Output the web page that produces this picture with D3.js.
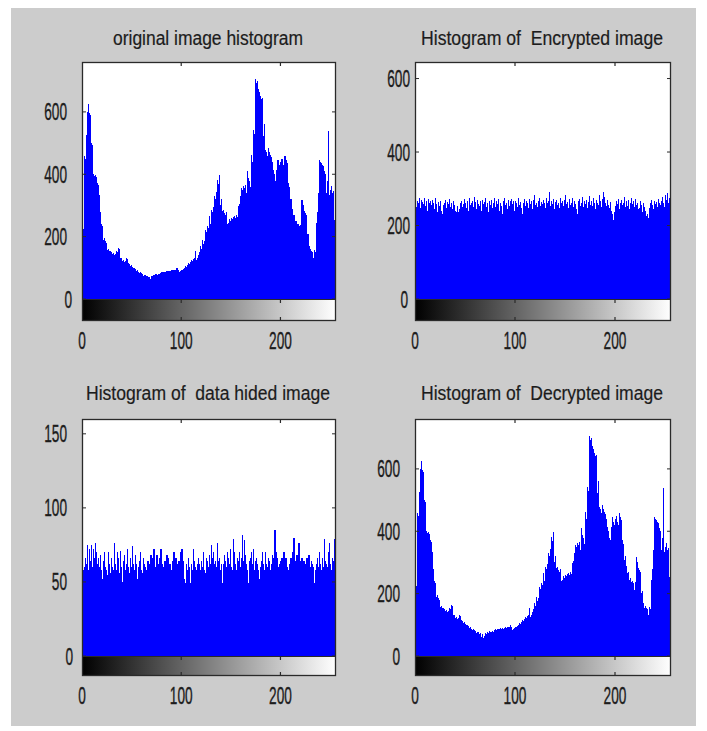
<!DOCTYPE html>
<html>
<head>
<meta charset="utf-8">
<script src="https://cdn.jsdelivr.net/npm/d3@7/dist/d3.min.js"></script>
<style>
  html, body { margin: 0; padding: 0; background: #ffffff; }
  svg { display: block; }
  text { font-family: "Liberation Sans", Arial, sans-serif; fill: #1c1c1c; white-space: pre; }
</style>
</head>
<body>
<svg id="chart" width="707" height="731"></svg>
<script>
// ---------------- DATA ----------------
const titles = [
  "original image histogram",
  "Histogram of  Encrypted image",
  "Histogram of  data hided image",
  "Histogram of  Decrypted image"
];
const xTickValues = [0, 100, 200];
const yTicksLarge = [0, 200, 400, 600];
const yTicksSmall = [0, 50, 100, 150];

// original image histogram (256 grey levels)
const originalCounts = [
  520,225,460,450,527,600,624,598,590,500,495,400,395,397,390,373,
  365,335,280,240,235,190,195,185,180,158,160,153,153,150,145,148,
  140,145,153,150,165,160,132,130,121,125,118,122,132,128,116,112,
  105,108,102,100,98,96,89,92,88,84,86,82,80,73,78,76,
  72,74,62,70,58,65,73,70,78,75,80,76,78,80,78,82,
  85,83,86,85,88,89,87,90,88,91,92,90,93,92,94,100,
  92,84,86,90,94,92,96,100,105,103,108,116,112,118,126,122,
  128,130,153,126,130,140,150,169,160,190,175,185,222,215,233,228,
  265,240,287,280,295,329,320,342,383,370,399,300,320,281,285,276,
  270,280,239,245,255,250,260,258,262,265,260,268,262,297,305,329,
  355,350,361,355,365,340,410,388,380,360,463,440,543,530,704,693,
  700,672,665,650,640,645,523,560,479,470,460,483,470,462,455,440,
  415,400,377,373,415,447,430,420,440,450,430,420,458,445,437,372,
  360,308,320,290,265,270,243,250,238,240,235,212,238,319,300,281,
  276,270,201,210,169,153,160,153,150,132,158,150,243,280,340,447,
  440,437,430,426,410,400,340,380,538,335,350,361,340,345,254,110
];

// encrypted image histogram
const encryptedCounts = [
  272,250,268,262,275,248,270,265,258,276,252,266,240,272,260,268,
  255,270,262,245,274,258,236,265,252,268,240,232,255,262,270,248,
  265,258,272,250,262,244,268,255,240,236,252,238,246,260,266,250,
  258,272,262,248,266,240,274,256,262,268,250,278,264,246,270,258,
  252,266,240,270,258,264,276,250,262,236,268,256,270,248,262,274,
  250,266,258,272,240,262,254,232,268,276,256,262,244,270,252,266,
  272,258,266,240,268,262,250,276,256,264,248,232,260,272,254,266,
  262,248,272,258,266,244,270,282,256,262,250,268,276,252,264,258,
  270,262,248,274,260,268,292,252,266,258,272,246,264,270,256,262,
  248,276,260,266,252,270,284,258,264,248,272,256,262,276,250,268,
  258,244,232,266,272,254,262,278,250,266,258,270,248,264,280,256,
  268,252,276,260,246,270,262,256,282,266,250,272,290,278,262,254,
  270,256,248,264,240,230,215,238,252,266,258,272,244,262,270,256,
  262,278,250,266,254,270,246,262,274,258,266,250,272,256,262,244,
  248,268,256,236,262,250,240,226,232,220,248,262,270,256,244,268,
  258,264,250,272,262,256,268,278,262,250,282,270,288,262,274,284
];

// data hided image histogram
const hidedCounts = [
  85,58,60,66,62,75,58,72,64,75,60,72,66,76,70,62,
  66,60,68,58,52,64,70,60,58,55,70,62,56,66,60,58,
  76,62,58,70,66,56,71,60,50,64,68,58,62,72,60,56,
  66,60,74,62,58,68,62,52,60,64,70,58,56,66,62,60,
  58,50,64,60,62,68,58,66,72,60,56,68,62,58,66,72,
  62,56,60,64,58,68,66,60,62,58,56,64,70,60,66,62,
  58,64,60,70,72,60,64,52,49,62,58,66,60,49,62,58,
  72,64,60,58,62,66,62,58,64,60,70,58,56,66,64,60,
  68,62,75,66,70,62,64,60,76,64,66,58,62,49,62,68,
  64,60,70,66,62,72,60,58,79,70,62,58,66,64,70,60,
  66,82,64,78,68,62,58,49,64,66,70,62,72,58,64,66,
  62,58,52,60,64,70,62,58,70,62,60,66,64,58,62,68,
  62,66,85,70,66,60,58,62,64,66,60,70,62,66,60,58,
  50,62,66,60,70,80,64,60,68,62,76,64,60,66,52,64,
  62,58,66,62,68,60,58,64,62,60,49,58,62,66,60,70,
  62,58,66,60,79,64,62,60,70,76,62,58,66,64,79,66
];

// decrypted image histogram: identical to the original (lossless recovery)
const decryptedCounts = originalCounts;

const seriesList = [originalCounts, encryptedCounts, hidedCounts, decryptedCounts];
const yMaxList = [760, 645, 160, 760];
const yTicksList = [yTicksLarge, yTicksLarge, yTicksSmall, yTicksLarge];

// ---------------- LAYOUT ----------------
const layout = [
  {left: 82,  right: 336, top: 62,  y0: 299, cbBottom: 321, titleY: 45,  titleW: 190, gap: 15, zeroShift: 5},
  {left: 415, right: 671, top: 62,  y0: 299, cbBottom: 321, titleY: 45,  titleW: 242, gap: 5,  zeroShift: -2},
  {left: 82,  right: 336, top: 419, y0: 656, cbBottom: 676, titleY: 400, titleW: 244, gap: 15, zeroShift: 6},
  {left: 415, right: 671, top: 419, y0: 656, cbBottom: 676, titleY: 400, titleW: 242, gap: 15, zeroShift: 0}
];

const svg = d3.select("#chart");
svg.append("rect").attr("x", 0).attr("y", 0).attr("width", 707).attr("height", 731).attr("fill", "#ffffff");
svg.append("rect").attr("x", 11).attr("y", 8).attr("width", 685).attr("height", 718).attr("fill", "#cccccc");

const defs = svg.append("defs");
const grad = defs.append("linearGradient").attr("id", "greyramp").attr("x1", "0%").attr("x2", "100%").attr("y1", "0%").attr("y2", "0%");
grad.append("stop").attr("offset", "0%").attr("stop-color", "#000000");
grad.append("stop").attr("offset", "100%").attr("stop-color", "#ffffff");

const frameColor = "#2a2a2a";
const textColor = "#1c1c1c";
const tickLen = 4;
const digitW = 7.6;

layout.forEach((L, k) => {
  const data = seriesList[k];
  const x = d3.scaleLinear().domain([0, 256]).range([L.left, L.right]);
  const y = d3.scaleLinear().domain([0, yMaxList[k]]).range([L.y0, L.top]);
  const g = svg.append("g");

  // plot background
  g.append("rect").attr("x", L.left).attr("y", L.top)
    .attr("width", L.right - L.left).attr("height", L.y0 - L.top).attr("fill", "#ffffff");

  // histogram bars
  g.append("g").attr("shape-rendering", "crispEdges")
    .selectAll("rect").data(data).join("rect")
    .attr("x", (d, i) => x(i))
    .attr("width", (d, i) => x(i + 1) - x(i) + 0.3)
    .attr("y", d => y(Math.min(d, yMaxList[k])))
    .attr("height", d => L.y0 - y(Math.min(d, yMaxList[k])))
    .attr("fill", "#0000ff");

  // colour bar
  g.append("rect").attr("x", L.left).attr("y", L.y0)
    .attr("width", L.right - L.left).attr("height", L.cbBottom - L.y0)
    .attr("fill", "url(#greyramp)");

  // frames
  g.append("rect").attr("x", L.left + 0.5).attr("y", L.top + 0.5)
    .attr("width", L.right - L.left - 1).attr("height", L.cbBottom - L.top - 1)
    .attr("fill", "none").attr("stroke", frameColor).attr("stroke-width", 1.3);
  g.append("line").attr("x1", L.left).attr("x2", L.right)
    .attr("y1", L.y0 + 0.5).attr("y2", L.y0 + 0.5)
    .attr("stroke", frameColor).attr("stroke-width", 1);

  // y ticks
  const yt = yTicksList[k];
  g.selectAll(".ytl").data(yt).join("line")
    .attr("x1", L.left).attr("x2", L.left + tickLen)
    .attr("y1", d => y(d)).attr("y2", d => y(d))
    .attr("stroke", frameColor);
  g.selectAll(".ytr").data(yt).join("line")
    .attr("x1", L.right - tickLen).attr("x2", L.right)
    .attr("y1", d => y(d)).attr("y2", d => y(d))
    .attr("stroke", frameColor);

  // x ticks (top of histogram, top & bottom of colour bar)
  const xt = xTickValues.filter(v => v > 0);
  [[L.top, 1], [L.y0, 1], [L.cbBottom, -1]].forEach(([yy, dir]) => {
    g.selectAll(null).data(xt).join("line")
      .attr("x1", d => x(d)).attr("x2", d => x(d))
      .attr("y1", yy).attr("y2", yy + dir * tickLen)
      .attr("stroke", frameColor).attr("stroke-width", 1.2);
  });

  // y tick labels
  g.selectAll(".ylab").data(yt).join("text")
    .attr("x", d => L.left - L.gap + (d === 0 ? L.zeroShift : 0))
    .attr("y", d => y(d) + 8.5)
    .attr("text-anchor", "end")
    .attr("font-size", 24)
    .attr("stroke", textColor).attr("stroke-width", 0.35)
    .attr("textLength", d => String(d).length * digitW)
    .attr("lengthAdjust", "spacingAndGlyphs")
    .text(d => String(d));

  // x tick labels
  g.selectAll(".xlab").data(xTickValues).join("text")
    .attr("x", d => x(d))
    .attr("y", L.cbBottom + 28)
    .attr("text-anchor", "middle")
    .attr("font-size", 24)
    .attr("stroke", textColor).attr("stroke-width", 0.35)
    .attr("textLength", d => String(d).length * digitW)
    .attr("lengthAdjust", "spacingAndGlyphs")
    .text(d => String(d));

  // title
  g.append("text")
    .attr("x", (L.left + L.right) / 2 - 1)
    .attr("y", L.titleY)
    .attr("text-anchor", "middle")
    .attr("font-size", 20)
    .attr("stroke", textColor).attr("stroke-width", 0.2)
    .attr("textLength", L.titleW)
    .attr("lengthAdjust", "spacingAndGlyphs")
    .text(titles[k]);
});
</script>
</body>
</html>
